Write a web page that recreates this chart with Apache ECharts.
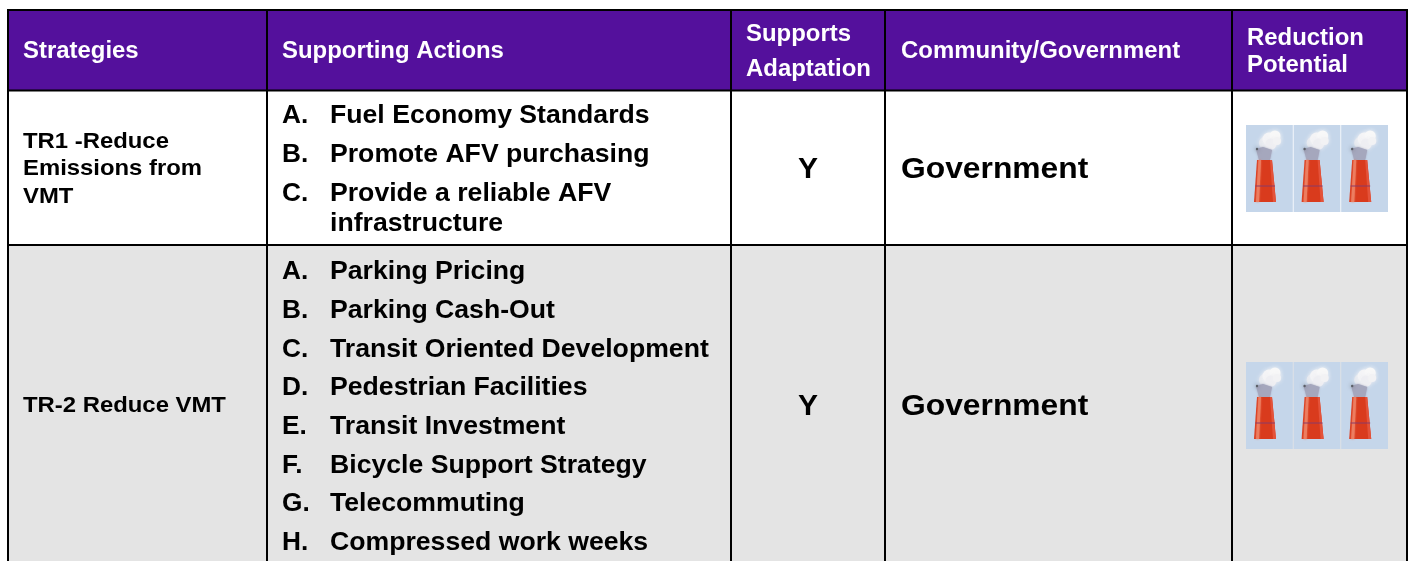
<!DOCTYPE html>
<html>
<head>
<meta charset="utf-8">
<style>
  html, body { margin: 0; padding: 0; background: #fff; }
  #chart { width: 1408px; height: 561px; }
</style>
<script src="https://cdn.jsdelivr.net/npm/echarts@6/dist/echarts.min.js"></script>
</head>
<body>
<div id="chart"></div>
<script>
// table content
const headers = ['Strategies', 'Supporting Actions', 'Supports\nAdaptation', 'Community/Government', 'Reduction\nPotential'];
const strategies = ['TR1 -Reduce\nEmissions from\nVMT', 'TR-2 Reduce VMT'];
const adaptation = ['Y', 'Y'];
const actor = ['Government', 'Government'];
const potential = [3, 3];
const actionLetters = [
  ['A.', 'B.', 'C.', ''],
  ['A.', 'B.', 'C.', 'D.', 'E.', 'F.', 'G.', 'H.']
];
const actions = [
  ['Fuel Economy Standards', 'Promote AFV purchasing', 'Provide a reliable AFV', 'infrastructure'],
  ['Parking Pricing', 'Parking Cash-Out', 'Transit Oriented Development', 'Pedestrian Facilities',
   'Transit Investment', 'Bicycle Support Strategy', 'Telecommuting', 'Compressed work weeks']
];

// table layout, in axis units (the axes are 1:1 with the page)
const colEdges = [8, 267, 731, 885, 1232, 1407];
const headTop = 10, headBottom = 90.5;
const rowEdges = [90.5, 245, 561];
const headerX = [23, 282, 746, 901, 1247];
const headerLine = [27, 27, 35, 27, 27];
const actionY = [[116.5, 155.5, 194.5, 224], [272.5, 311.5, 350.5, 388.5, 427.5, 466.5, 504.5, 543.5]];
const midY = [170, 407];
const iconTop = [125, 362];
const iconLeft = 1246, iconW = 47.6, iconH = 87;

const FONT = '"Liberation Sans", Arial, sans-serif';
const PURPLE = '#54109c', GREY = '#e4e4e4';

// the source table text is a little wider than its height, so sx stretches it
function textEl(api, x, y, str, o) {
  const p = api.coord([x, y]);
  return {
    type: 'text', x: p[0], y: p[1], scaleX: o.sx || 1,
    style: {
      text: str, fill: o.color || '#000', font: 'bold ' + o.size + 'px ' + FONT,
      align: o.align || 'left', verticalAlign: 'middle', lineHeight: o.lh || o.size
    }
  };
}

function rectEl(api, x0, y0, x1, y1, fill) {
  const a = api.coord([x0, y0]), b = api.coord([x1, y1]);
  return { type: 'rect', shape: { x: a[0], y: a[1], width: b[0] - a[0], height: b[1] - a[1] }, style: { fill: fill } };
}

// one smoke stack tile, drawn with the axes so it stays in the table cell
function stackEl(api, x, y) {
  const c = (dx, dy) => api.coord([x + dx, y + dy]);
  const poly = pts => pts.map(p => c(p[0], p[1]));
  const puff = (dx, dy, r, fill) => {
    const p = c(dx, dy);
    return { type: 'circle', shape: { cx: p[0], cy: p[1], r: r }, style: { fill: fill, shadowBlur: 4, shadowColor: fill } };
  };
  return {
    type: 'group',
    children: [
      rectEl(api, x, y, x + iconW - 0.8, y + iconH, '#c5d6ea'),
      puff(19, 18, 6, '#e6e9ef'), puff(23, 14, 6.5, '#f4f4f6'), puff(29, 11, 5.5, '#f8f8f8'),
      puff(25, 19, 5.5, '#eeeef2'), puff(31, 16, 4, '#f2f2f4'),
      { type: 'polygon', shape: { points: poly([[10, 24], [17, 22], [26, 25], [24, 35], [13, 35]]) }, style: { fill: '#a5a7bd', shadowBlur: 2, shadowColor: '#a5a7bd' } },
      puff(11, 24, 1.2, '#5c6068'),
      { type: 'polygon', shape: { points: poly([[11, 35], [26, 35], [30, 77], [8, 77]]) }, style: { fill: '#d93b1d' } },
      { type: 'polygon', shape: { points: poly([[12.5, 35], [15, 35], [13, 77], [10, 77]]) }, style: { fill: '#ec7d60', shadowBlur: 2, shadowColor: '#ec7d60' } },
      { type: 'polygon', shape: { points: poly([[24, 35], [26, 35], [30, 77], [27, 77]]) }, style: { fill: '#e4533a' } },
      { type: 'polyline', shape: { points: poly([[9.5, 61], [29, 61]]) }, style: { stroke: '#8a3a68', lineWidth: 1, fill: 'none' } }
    ]
  };
}

function renderTable(params, api) {
  const kids = [];
  // backgrounds
  kids.push(rectEl(api, colEdges[0], headTop, colEdges[5], headBottom, PURPLE));
  kids.push(rectEl(api, colEdges[0], rowEdges[1], colEdges[5], rowEdges[2], GREY));
  // rules
  colEdges.forEach(x => kids.push(rectEl(api, x - 1, headTop - 1, x + 1, 561, '#000')));
  [headTop, headBottom, rowEdges[1]].forEach(y => kids.push(rectEl(api, colEdges[0] - 1, y - 1, colEdges[5] + 1, y + 1, '#000')));
  // header
  headers.forEach((h, i) => {
    kids.push(textEl(api, headerX[i], 52, h, { size: 23, sx: 1.04, lh: headerLine[i], color: '#fff' }));
  });
  // rows
  strategies.forEach((s, r) => {
    kids.push(textEl(api, 23, midY[r] - 1, s, { size: 22, sx: 1.085, lh: 27.5 }));
    actions[r].forEach((a, i) => {
      if (actionLetters[r][i]) kids.push(textEl(api, 282, actionY[r][i], actionLetters[r][i], { size: 25, sx: 1.05 }));
      kids.push(textEl(api, 330, actionY[r][i], a, { size: 25, sx: 1.065 }));
    });
    kids.push(textEl(api, 808, midY[r], adaptation[r], { size: 30, align: 'center' }));
    kids.push(textEl(api, 901, midY[r], actor[r], { size: 30, sx: 1.06 }));
    for (let k = 0; k < potential[r]; k++) {
      kids.push(stackEl(api, iconLeft + k * iconW, iconTop[r]));
    }
  });
  return { type: 'group', children: kids };
}

const chart = echarts.init(document.getElementById('chart'), null, { renderer: 'canvas' });
chart.setOption({
  animation: false,
  backgroundColor: '#fff',
  grid: { left: 0, right: 0, top: 0, bottom: 0 },
  xAxis: { type: 'value', min: 0, max: 1408, show: false },
  yAxis: { type: 'value', min: 0, max: 561, inverse: true, show: false },
  series: [{
    type: 'custom',
    coordinateSystem: 'cartesian2d',
    clip: false,
    silent: true,
    data: [[0, 0]],
    renderItem: renderTable
  }]
});
</script>
</body>
</html>
